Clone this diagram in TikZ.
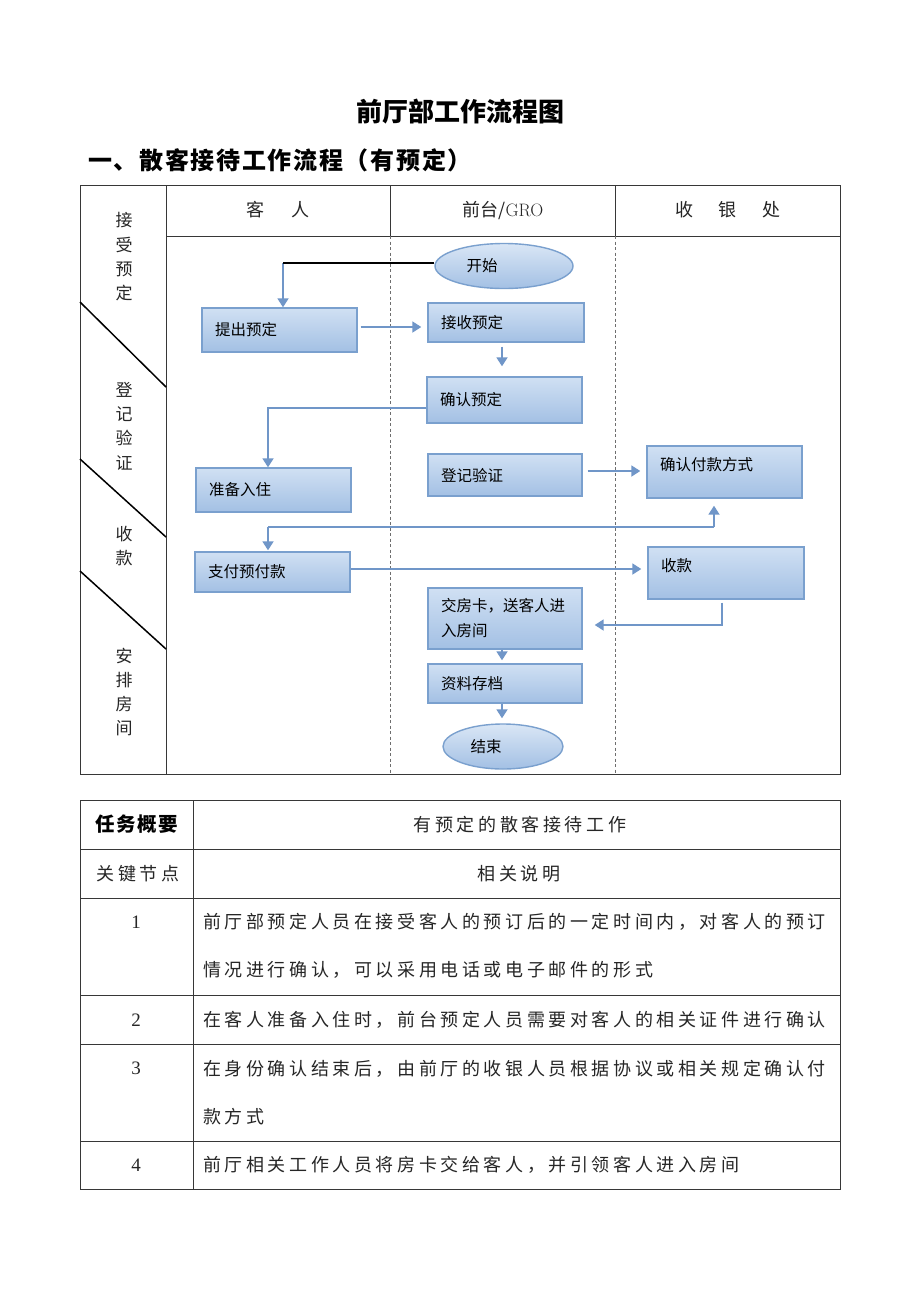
\documentclass[tikz,border=0pt]{standalone}
\usepackage{fontspec}
\newfontfamily\cjk{Noto Sans CJK SC}
\newfontfamily\cjksp[LetterSpace=20]{Noto Sans CJK SC}
\newfontfamily\cjkti[LetterSpace=7]{Noto Sans CJK SC}
\newfontfamily\numfont{Liberation Serif}
\usetikzlibrary{arrows.meta,shapes.geometric,calc}
\definecolor{boxline}{RGB}{122,160,206}
\definecolor{boxtop}{RGB}{208,224,243}
\definecolor{boxbot}{RGB}{163,192,228}
\definecolor{arrowc}{RGB}{112,150,200}
\definecolor{framec}{RGB}{55,55,55}
\definecolor{lanec}{RGB}{110,110,110}
\tikzset{
  flowbox/.style={rectangle, draw=boxline, line width=1.4pt, top color=boxtop, bottom color=boxbot,
    inner xsep=13pt, inner ysep=0pt, align=left, font=\cjk\fontsize{15.5}{25}\selectfont},
  flowoval/.style={ellipse, draw=boxline, line width=1.4pt, top color=boxtop!80!white, bottom color=boxbot,
    inner sep=0pt, font=\cjk\fontsize{15.5}{20}\selectfont},
  conn/.style={draw=arrowc, line width=1.8pt, -{Triangle[width=11pt,length=9pt]}},
  connline/.style={draw=arrowc, line width=1.8pt},
  framel/.style={draw=framec, line width=0.9pt},
  lanedash/.style={draw=lanec, line width=0.9pt, dash pattern=on 3pt off 2.5pt},
  diag/.style={draw=black, line width=1.5pt},
  lanelabel/.style={align=center, inner sep=0pt, font=\cjk\fontsize{17}{24.3}\selectfont, text=black!85},
  headlabel/.style={inner sep=0pt, font=\cjk\fontsize{18}{22}\selectfont, text=black!85},
  celltext/.style={inner sep=0pt, align=left, font=\cjksp\fontsize{18}{48.5}\selectfont, text=black!85},
  cellnum/.style={inner sep=0pt, font=\numfont\fontsize{19}{22}\selectfont, text=black!85}
}
\begin{document}
\begin{tikzpicture}[x=1pt,y=-1pt]
\useasboundingbox[fill=white] (0,0) rectangle (920,1302);

% titles
\node[inner sep=0pt, font=\cjk\bfseries\fontsize{26}{30}\selectfont] (title) at (460,112) {前厅部工作流程图};
\node[anchor=west, inner sep=0pt, font=\cjkti\bfseries\fontsize{24}{28}\selectfont] (subtitle) at (88,160) {一、散客接待工作流程（有预定）};

% swimlane frame
\draw[framel] (80,185) rectangle (840,774);
\draw[framel] (166,185) -- (166,774);
\draw[framel] (166,236) -- (840,236);
\draw[framel] (390,185) -- (390,236);
\draw[framel] (615,185) -- (615,236);
\draw[lanedash] (390,236) -- (390,774);
\draw[lanedash] (615,236) -- (615,774);
\draw[diag] (80,302) -- (166,387);
\draw[diag] (80,459) -- (166,537);
\draw[diag] (80,571) -- (166,649);

% header labels
\node[headlabel] (h1) at (278,210) {客\hspace{1.5em}人};
\node[headlabel] (h2) at (503,210) {前台/\rmfamily GRO};
\node[headlabel] (h3) at (728,210) {收\hspace{1.4em}银\hspace{1.4em}处};

% left column labels
\node[lanelabel] (l1) at (124,257) {接\\受\\预\\定};
\node[lanelabel] (l2) at (124,426) {登\\记\\验\\证};
\node[lanelabel] (l3) at (124,546) {收\\款};
\node[lanelabel] (l4) at (124,692) {安\\排\\房\\间};

% flow nodes
\node[flowoval, minimum width=138pt, minimum height=45pt] (start) at (504,266) {开始\kern44pt};
\node[flowbox, text width=129pt, minimum height=44pt] (tc) at (279.5,330) {提出预定};
\node[flowbox, text width=130pt, minimum height=39pt] (js) at (506,322.5) {接收预定};
\node[flowbox, text width=129pt, minimum height=46pt] (qr) at (504.5,400) {确认预定};
\node[flowbox, text width=129pt, minimum height=44pt] (zb) at (273.5,490) {准备入住};
\node[flowbox, text width=128pt, minimum height=42pt] (dj) at (505,475) {登记验证};
\node[flowbox, text width=129pt, minimum height=52pt, text depth=17pt] (qf) at (724.5,472) {确认付款方式};
\node[flowbox, text width=129pt, minimum height=40pt] (zf) at (272.5,572) {支付预付款};
\node[flowbox, text width=130pt, minimum height=52pt, text depth=17pt] (sk) at (726,573) {收款};
\node[flowbox, text width=128pt, minimum height=61pt] (jf) at (505,618.5) {交房卡，送客人进\\入房间};
\node[flowbox, text width=128pt, minimum height=39pt] (zl) at (505,683.5) {资料存档};
\node[flowoval, minimum width=120pt, minimum height=45pt] (end) at (503,746.5) {结束\kern34pt};

% connectors
\coordinate (c1) at (283,263);
\draw[conn] (c1) -- (c1 |- tc.north);
\draw[draw=black, line width=2pt] (start.west |- c1) -- (c1);
\draw[conn, shorten <=3pt, shorten >=6pt] (tc.east |- 0,327) -- (js.west |- 0,327);
\draw[conn, shorten <=4pt, shorten >=10pt] (502,0 |- js.south) -- (502,0 |- qr.north);
\draw[conn] (qr.west |- 0,408) -| ([xshift=-5.5pt]zb.north);
\draw[conn, shorten <=5pt, shorten >=6pt] (dj.east |- 0,471) -- (qf.west |- 0,471);
\coordinate (j1) at (714,527);
\coordinate (j2) at (268,527);
\draw[connline] (j2) -- (j1);
\draw[conn, shorten >=7pt] (j1) -- (j1 |- qf.south);
\draw[conn, shorten >=1pt] (j2) -- (j2 |- zf.north);
\draw[conn, shorten >=6pt] (zf.east |- 0,569) -- (sk.west |- 0,569);
\draw[conn, shorten <=3pt, shorten >=12pt] (722,0 |- sk.south) |- (jf.east |- 0,625);
\draw[conn, shorten >=3pt] (502,0 |- jf.south) -- (502,0 |- zl.north);
\draw[conn, shorten >=5pt] (502,0 |- zl.south) -- (502,0 |- end.north);

% table
\draw[framel] (80,800) rectangle (840,1189);
\draw[framel] (193,800) -- (193,1189);
\foreach \yy in {849,898,995,1044,1141} \draw[framel] (80,\yy) -- (840,\yy);

\node[inner sep=0pt, font=\cjkti\bfseries\fontsize{19.5}{24}\selectfont] (t11) at (137,824.5) {任务概要};
\node[celltext] (t12) at (520,824.5) {有预定的散客接待工作};
\node[celltext] (t21) at (138,873.5) {关键节点};
\node[celltext] (t22) at (519,873.5) {相关说明};
\node[cellnum] (n1) at (136,922) {1};
\node[celltext, anchor=west] (d1) at (203,946) {前厅部预定人员在接受客人的预订后的一定时间内，对客人的预订\\情况进行确认，可以采用电话或电子邮件的形式};
\node[cellnum] (n2) at (136,1020) {2};
\node[celltext, anchor=west] (d2) at (203,1020) {在客人准备入住时，前台预定人员需要对客人的相关证件进行确认};
\node[cellnum] (n3) at (136,1068) {3};
\node[celltext, anchor=west] (d3) at (203,1092.5) {在身份确认结束后，由前厅的收银人员根据协议或相关规定确认付\\款方式};
\node[cellnum] (n4) at (136,1165) {4};
\node[celltext, anchor=west] (d4) at (203,1165) {前厅相关工作人员将房卡交给客人，并引领客人进入房间};
\end{tikzpicture}
\end{document}
